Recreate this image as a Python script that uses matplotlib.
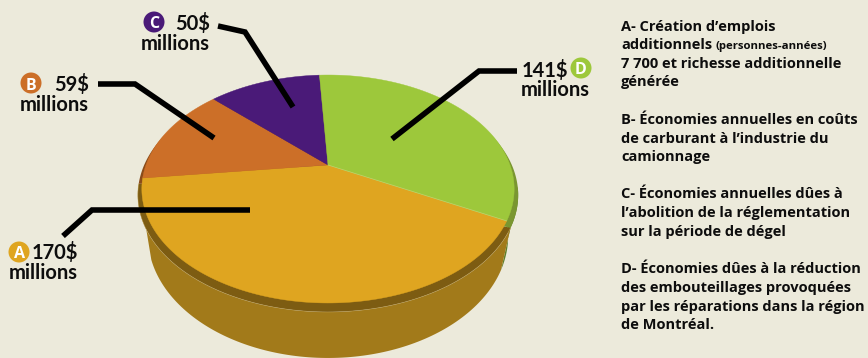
import numpy as np
import matplotlib
matplotlib.use("Agg")
import matplotlib.pyplot as plt
from matplotlib.patches import Polygon, Circle

# Répartition des retombées, en millions de dollars
letters = ["A", "B", "C", "D"]
values = [170, 59, 50, 141]
amounts = ["170$", "59$", "50$", "141$"]
unit = "millions"

BG = "#eceadb"
TOP = ["#dfa520", "#cc6f28", "#4a1a78", "#9dc83b"]
RIM = ["#7d5c12", "#8a4c1a", "#33124f", "#7a9630"]
SIDE = ["#a27a1a", "#8f5120", "#33124f", "#5f7f2a"]
INK = "#0d0d0d"
LABEL_FONT = ["Lato"]
NOTE_FONT = ["Open Sans"]

fig = plt.figure(figsize=(8.68, 3.58), dpi=100, facecolor=BG)
ax = fig.add_axes([0, 0, 1, 1])
ax.set_xlim(0, 868)
ax.set_ylim(358, 0)
ax.axis("off")

# Perspective projection of the unit disc onto the page
CX, CY, A, B, P = 328.0, 165.0, 182.0, 74.2, -0.2105
FACE_C, FACE_RX, FACE_RY = 189.0, 186.0, 114.0


def project(theta):
    x, y = np.cos(theta), np.sin(theta)
    w = 1 + P * y
    return CX + A * x / w, (CY + B * y) / w


def ring(theta, rx, ry, cy):
    # Same angles mapped to a lower ellipse of the pie's thickness
    x, y = project(theta)
    return CX + (x - CX) / FACE_RX * rx, cy + (y - FACE_C) / FACE_RY * ry


START = np.deg2rad(27.6)
edges = START + np.concatenate([[0], np.cumsum(values)]) / np.sum(values) * 2 * np.pi
spans = [np.linspace(edges[i], edges[i + 1], 120) for i in range(len(values))]

RIM_GEO = (190.0, 117.0, 195.0)
BASE_GEO = (180.0, 122.0, 236.0)


def wall(upper_theta, lower_theta):
    xu, yu = ring(upper_theta, *RIM_GEO)
    xl, yl = ring(lower_theta[::-1], *BASE_GEO)
    return np.column_stack([np.r_[xu, xl], np.r_[yu, yl]])


# Outer wall, only the front arcs show
front_d = np.linspace(np.deg2rad(8), START, 40)
ax.add_patch(Polygon(wall(front_d, front_d), fc=SIDE[3], ec="none", zorder=1))
wall_end = np.linspace(edges[0], np.deg2rad(157), 120)
ax.add_patch(Polygon(wall(spans[0], wall_end), fc=SIDE[0], ec="none", zorder=2))

# Darker ledge under the top face
for i, th in enumerate(spans):
    xr, yr = ring(th, *RIM_GEO)
    ax.add_patch(Polygon(np.column_stack([np.r_[CX, xr], np.r_[CY + 25, yr]]),
                         fc=RIM[i], ec="none", zorder=3))
xr, yr = ring(spans[0], *RIM_GEO)
ax.plot(xr, yr, color="#c9b070", lw=0.4, alpha=0.7, zorder=3.5)

# Top face
for i, th in enumerate(spans):
    x, y = project(th)
    ax.add_patch(Polygon(np.column_stack([np.r_[CX, x], np.r_[CY, y]]),
                         fc=TOP[i], ec=TOP[i], lw=0.3, zorder=4))
xa, ya = project(np.array([edges[0]]))
ax.plot([CX, xa[0]], [CY, ya[0]], color="#cfe08a", lw=0.5, alpha=0.7, zorder=4.5)

# Leader lines
leaders = [
    ([63, 92, 250], [236, 210, 210]),
    ([98, 135, 214], [84, 84, 138]),
    ([218, 245, 293], [26, 32, 107]),
    ([392, 479, 517], [139, 71, 71]),
]
for lx, ly in leaders:
    ax.plot(lx, ly, color="black", lw=4, solid_joinstyle="miter",
            solid_capstyle="butt", zorder=5)

# Amount labels with lettered badges
labels = [
    dict(right=78, top=259, bottom=279, badge=(19, 252)),
    dict(right=89, top=91, bottom=111, badge=(31, 83)),
    dict(right=210, top=30, bottom=50, badge=(154, 22)),
    dict(right=590, top=77, bottom=96, badge=(581, 68)),
]
for i, lab in enumerate(labels):
    if letters[i] == "D":
        ax.text(522, lab["top"], amounts[i], family=LABEL_FONT, fontsize=14.5,
                fontweight="bold", color=INK, ha="left", va="baseline", zorder=6)
    else:
        ax.text(lab["right"], lab["top"], amounts[i], family=LABEL_FONT, fontsize=14.5,
                fontweight="bold", color=INK, ha="right", va="baseline", zorder=6)
    ax.text(lab["right"], lab["bottom"], unit, family=LABEL_FONT, fontsize=14.5,
            fontweight="bold", color=INK, ha="right", va="baseline", zorder=6)
    ax.add_patch(Circle(lab["badge"], 10.5, fc=TOP[i], ec="none", zorder=6))
    ax.text(lab["badge"][0], lab["badge"][1] + 0.5, letters[i], family=NOTE_FONT,
            fontsize=11.5, fontweight="bold", color="white", ha="center",
            va="center_baseline", zorder=7)

# Explanatory notes at right
notes = [
    (31, "A- Création d’emplois"),
    (49, "additionnels"),
    (68, "7 700 et richesse additionnelle"),
    (86, "générée"),
    (124, "B- Économies annuelles en coûts"),
    (143, "de carburant à l’industrie du"),
    (161, "camionnage"),
    (198, "C- Économies annuelles dûes à"),
    (217, "l’abolition de la réglementation"),
    (236, "sur la période de dégel"),
    (273, "D- Économies dûes à la réduction"),
    (292, "des embouteillages provoquées"),
    (311, "par les réparations dans la région"),
    (329, "de Montréal."),
]
for base, line in notes:
    ax.text(621, base, line, family=NOTE_FONT, fontsize=10.5, fontweight="bold",
            color=INK, ha="left", va="baseline", zorder=6)
ax.text(716, 49, "(personnes-années)", family=NOTE_FONT, fontsize=8.2,
        fontweight="bold", color=INK, ha="left", va="baseline", zorder=6)

fig.savefig("out.png", dpi=100, facecolor=BG)
